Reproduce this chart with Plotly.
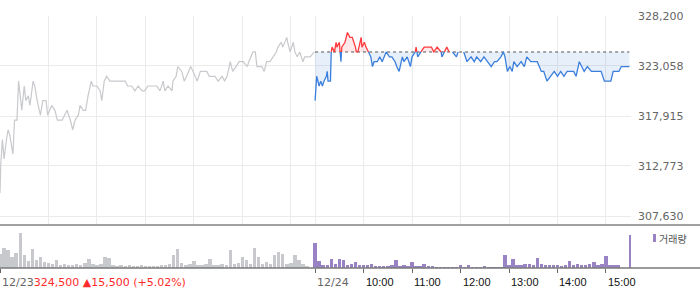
import plotly.graph_objects as go

BASE = 324500  # previous close (dotted reference line)

# ---- 12/23 (previous day) : minutes after 09:00 and price ----
d1_min = [0, 1, 3, 5, 8, 10, 12, 16, 18, 21,
          23, 26, 27, 30, 32, 35, 37, 41, 43, 46,
          50, 53, 57, 59, 64, 68, 71, 77, 80, 83,
          87, 90, 93, 97, 99, 103, 106, 109, 113, 115,
          120, 124, 126, 129, 132, 136, 140, 145, 149, 155,
          158, 163, 167, 171, 176, 179, 183, 189, 194, 198,
          202, 204, 208, 213, 214, 218, 220, 225, 228, 231,
          236, 239, 244, 248, 251, 256, 259, 266, 270, 275,
          278, 281, 285, 288, 292, 296, 301, 306, 308, 313,
          316, 318, 324, 327, 330, 334, 338, 342, 344, 348,
          350, 353, 355, 356, 359, 363, 365, 368, 371, 375,
          377, 384, 389]
d1_px = [310000, 313000, 315500, 313500, 315500, 316500, 316000, 314000, 317500, 317500,
         321500, 319500, 318500, 321000, 319500, 320000, 319000, 321500, 321000, 319500,
         318000, 319500, 319500, 318000, 319000, 318500, 317500, 317500, 318000, 318500,
         317500, 316500, 317500, 318000, 319000, 318500, 318500, 320000, 321500, 321000,
         321000, 320500, 319500, 321500, 322000, 321500, 321500, 321500, 321500, 321500,
         321000, 321000, 320500, 321000, 320500, 320500, 321000, 321000, 321000, 320500,
         321500, 320500, 321000, 320500, 321500, 322000, 323000, 322500, 321500, 322000,
         323000, 322500, 321500, 322500, 322500, 322500, 322000, 322000, 321500, 322000,
         321500, 322000, 323500, 322500, 323000, 323500, 323500, 323000, 323500, 324500,
         324500, 323000, 323000, 322500, 323500, 323500, 324000, 324500, 325000, 325500,
         325000, 325500, 326000, 325500, 324500, 325500, 324500, 324000, 324500, 323500,
         324000, 324000, 324500]

# ---- 12/24 (today) ----
d2_min = [0, 1, 2, 5, 7, 9, 11, 14, 15, 16,
          19, 20, 21, 24, 26, 27, 30, 32, 33, 37,
          40, 43, 46, 50, 51, 53, 57, 58, 61, 63,
          66, 69, 71, 73, 77, 80, 83, 88, 92, 95,
          99, 101, 104, 108, 110, 114, 118, 120, 124, 125,
          127, 131, 135, 139, 144, 147, 151, 156, 157, 160,
          163, 166, 170, 175, 177, 182, 184, 188, 193, 197,
          200, 205, 209, 213, 218, 222, 225, 230, 233, 235,
          238, 241, 244, 246, 250, 255, 259, 262, 267, 271,
          275, 280, 283, 287, 292, 296, 300, 304, 308, 312,
          317, 320, 323, 327, 330, 333, 337, 342, 345, 349,
          354, 358, 361, 366, 369, 372, 376, 379, 384, 389]
d2_px = [319500, 321000, 322000, 321000, 321500, 321000, 321500, 322000, 322500, 321500,
         321500, 324500, 325000, 324500, 325500, 325000, 325500, 323500, 325000, 325500,
         326500, 326000, 326000, 325000, 324500, 324500, 326000, 325000, 325500, 325000,
         324500, 324000, 323000, 323500, 323500, 324000, 323500, 324500, 324000, 324000,
         323500, 323000, 322500, 324000, 323500, 324000, 323000, 324000, 324500, 325000,
         324000, 324500, 325000, 325000, 325000, 324500, 325000, 324500, 324000, 324500,
         325000, 324500, 324500, 324000, 324500, 324500, 324500, 323500, 324000, 323500,
         324000, 323500, 324000, 323500, 323000, 323500, 323500, 324000, 324500, 324000,
         322500, 323000, 322500, 323500, 323000, 323500, 323000, 324000, 323500, 323500,
         323500, 322500, 322500, 321500, 322000, 322500, 322000, 322500, 322000, 322500,
         322500, 322500, 322000, 323500, 323000, 322500, 323000, 322500, 322500, 322500,
         322500, 321500, 321500, 321500, 322500, 322500, 322500, 323000, 323000, 323000]

# ---- volume (thousand shares), 5-minute bins ----
vol_bins = list(range(0, 390, 5))
d1_vol = [14, 21, 18, 11, 15, 36, 13, 7, 19, 8,
          11, 6, 5, 4, 8, 3, 4, 3, 3, 4,
          3, 5, 9, 4, 3, 4, 11, 10, 3, 2,
          3, 2, 3, 2, 2, 3, 2, 2, 2, 2,
          3, 3, 4, 13, 19, 5, 3, 4, 7, 3,
          3, 4, 9, 3, 3, 4, 3, 18, 4, 5,
          11, 8, 4, 20, 11, 4, 6, 4, 13, 16,
          14, 4, 5, 13, 8, 4, 2, 0]
d2_vol = [26, 7, 3, 3, 9, 4, 9, 8, 3, 4,
          6, 3, 3, 3, 4, 2, 2, 2, 2, 3,
          8, 2, 3, 2, 6, 2, 2, 4, 2, 2,
          1, 1, 1, 1, 1, 1, 3, 1, 3, 1,
          1, 1, 2, 1, 1, 1, 1, 13, 3, 9,
          3, 3, 4, 4, 3, 10, 4, 3, 3, 3,
          3, 2, 3, 7, 3, 4, 3, 3, 4, 6,
          3, 4, 12, 3, 3, 3, 0, 0]
close_auction_vol = 34

y_ticks = [307630, 312773, 317915, 323058, 328200]
hour_ticks = [450, 510, 570, 630, 690, 750]
hour_labels = ["10:00", "11:00", "12:00", "13:00", "14:00", "15:00"]
header_text = "324,500 ▲15,500 (+5.02%)"

GRAY = "#c8c9cd"
BLUE = "#3a7fdc"
RED = "#ff3a3f"
PURPLE = "#9983c4"

x1 = d1_min
x2 = [390 + m for m in d2_min]

# split today's series where it crosses the reference line
sx, sy = [], []
for i in range(len(x2)):
    if i > 0:
        p0, p1 = d2_px[i - 1], d2_px[i]
        if (p0 - BASE) * (p1 - BASE) < 0:
            t = (BASE - p0) / (p1 - p0)
            sx.append(x2[i - 1] + t * (x2[i] - x2[i - 1]))
            sy.append(BASE)
    sx.append(x2[i])
    sy.append(d2_px[i])

n = len(sy)
red_y, blue_y = [], []
for i, v in enumerate(sy):
    prv = sy[i - 1] if i > 0 else v
    nxt = sy[i + 1] if i < n - 1 else v
    red_y.append(v if (v > BASE or (v == BASE and (prv > BASE or nxt > BASE))) else None)
    blue_y.append(v if (v < BASE or (v == BASE and (prv < BASE or nxt < BASE))) else None)
up = [max(v, BASE) for v in sy]
dn = [min(v, BASE) for v in sy]

fig = go.Figure()
# fills
fig.add_trace(go.Scatter(x=sx, y=[BASE] * n, mode="lines", line=dict(width=0), hoverinfo="skip"))
fig.add_trace(go.Scatter(x=sx, y=up, mode="lines", line=dict(width=0), fill="tonexty",
                         fillcolor="rgba(255,90,100,0.14)", hoverinfo="skip"))
fig.add_trace(go.Scatter(x=sx, y=[BASE] * n, mode="lines", line=dict(width=0), hoverinfo="skip"))
fig.add_trace(go.Scatter(x=sx, y=dn, mode="lines", line=dict(width=0), fill="tonexty",
                         fillcolor="rgba(70,130,220,0.13)", hoverinfo="skip"))
# previous day line
fig.add_trace(go.Scatter(x=x1, y=d1_px, mode="lines", line=dict(color=GRAY, width=1.2)))
# reference line
fig.add_trace(go.Scatter(x=[390, 779], y=[BASE, BASE], mode="lines",
                         line=dict(color="#555555", width=1, dash="dot")))
fig.add_trace(go.Scatter(x=sx, y=red_y, mode="lines", line=dict(color=RED, width=1.3)))
fig.add_trace(go.Scatter(x=sx, y=blue_y, mode="lines", line=dict(color=BLUE, width=1.3)))

# volume
fig.add_trace(go.Bar(x=vol_bins, y=d1_vol, width=4.2, marker=dict(color=GRAY, line=dict(width=0)),
                     xaxis="x2", yaxis="y2"))
fig.add_trace(go.Bar(x=[390 + b for b in vol_bins] + [780], y=d2_vol + [close_auction_vol], width=4.2,
                     marker=dict(color=PURPLE, line=dict(width=0)), xaxis="x2", yaxis="y2"))

W, H = 700, 289
L, R, T, B = 0, 69, 16, 21
pw = W - L - R
ph = H - T - B
def py(y):  # pixel row -> paper fraction
    return (H - B - y) / ph
def px(x):
    return (x - L) / pw

price_dom0 = py(225)
vol_dom1 = py(227)

grid_x = [0, 60, 120, 180, 240, 300, 360, 390] + hour_ticks

fig.update_layout(
    width=W, height=H, margin=dict(l=L, r=R, t=T, b=B),
    plot_bgcolor="white", paper_bgcolor="white", showlegend=False,
    bargap=0,
    font=dict(family="DejaVu Sans", size=11, color="#666"),
    xaxis=dict(domain=[0, 1], range=[0, 781], tickvals=grid_x, showticklabels=False,
               showgrid=True, gridcolor="#ebebeb", gridwidth=1, zeroline=False,
               ticks="", anchor="y", fixedrange=True),
    yaxis=dict(domain=[price_dom0, 1], range=[306704, 328200], side="right",
               tickvals=y_ticks, ticktext=[f"{v:,}" for v in y_ticks],
               showgrid=True, gridcolor="#ebebeb", gridwidth=1, zeroline=False,
               ticks="", ticklabelstandoff=6,
               tickfont=dict(family="DejaVu Sans", size=11, color="#666")),
    xaxis2=dict(domain=[0, 1], range=[0, 781], matches="x", anchor="y2",
                tickvals=[0, 390] + hour_ticks, showticklabels=False, showgrid=False,
                zeroline=False, ticks="outside", ticklen=4, tickcolor="#666", tickwidth=1),
    yaxis2=dict(domain=[0, vol_dom1], range=[0, 42], visible=False),
)

# panel separator and bottom axis lines spanning full width
fig.add_shape(type="line", xref="paper", yref="paper", x0=0, x1=px(700), y0=price_dom0, y1=price_dom0,
              line=dict(color="#828282", width=1.6))
fig.add_shape(type="line", xref="paper", yref="paper", x0=0, x1=px(700), y0=0, y1=0,
              line=dict(color="#7a7a7a", width=1.6))

# x labels
lab_y = py(282)
fig.add_annotation(x=0, xref="paper", y=lab_y, yref="paper", xanchor="left", yanchor="middle",
                   showarrow=False,
                   text="<span style='color:#666'>12/23</span><span style='color:#ff2a2a'>" + header_text + "</span>",
                   font=dict(family="DejaVu Sans", size=11))
fig.add_annotation(x=390, xref="x2", y=lab_y, yref="paper", xanchor="left", yanchor="middle",
                   showarrow=False, text="12/24", xshift=0,
                   font=dict(family="DejaVu Sans", size=11, color="#666"))
for t, lab in zip(hour_ticks, hour_labels):
    fig.add_annotation(x=t, xref="x2", y=lab_y, yref="paper", xanchor="left", yanchor="middle",
                       showarrow=False, text=lab, xshift=0,
                       font=dict(family="Liberation Sans", size=11, color="#111"))

# volume legend
fig.add_shape(type="rect", xref="paper", yref="paper", x0=px(653), x1=px(656), y0=py(242), y1=py(234),
              line=dict(width=0), fillcolor=PURPLE)
fig.add_annotation(x=px(657), xref="paper", y=py(238.5), yref="paper", xanchor="left", yanchor="middle",
                   showarrow=False, text="거래량",
                   font=dict(family="Noto Sans CJK KR", size=10, color="#555"))

fig.write_html("out.html")
